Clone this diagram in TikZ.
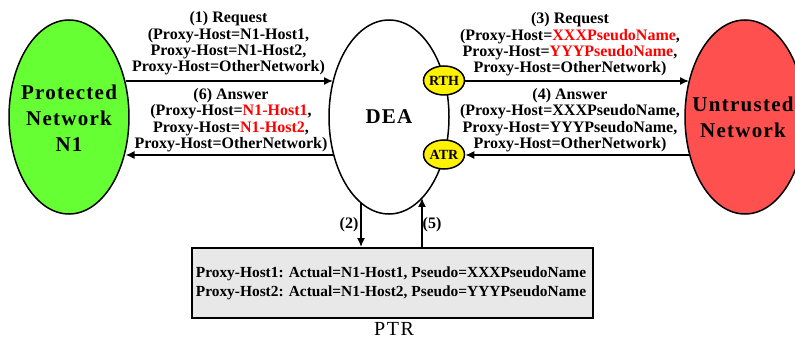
\documentclass[tikz,border=0pt]{standalone}
\usepackage{fontspec}
\setmainfont{Liberation Serif}
\newfontfamily\spaced[LetterSpace=6]{Liberation Serif}
\newfontfamily\widespaced[LetterSpace=8]{Liberation Serif}
\usetikzlibrary{shapes.geometric,arrows.meta}
\definecolor{greenfill}{HTML}{66FF33}
\definecolor{redfill}{HTML}{FF5050}
\definecolor{boxfill}{HTML}{E8E8E8}
\definecolor{hotred}{HTML}{FF0000}
\tikzset{
  net/.style={ellipse,draw=black,line width=1.5pt,minimum width=120pt,minimum height=194pt,inner sep=0pt},
  nettext/.style={align=center,inner sep=0pt,font=\fontsize{21}{26}\selectfont\bfseries\spaced},
  agent/.style={ellipse,draw=black,fill=yellow,line width=1.5pt,minimum width=41pt,minimum height=29pt,inner sep=0pt},
  agenttext/.style={inner sep=0pt,font=\fontsize{14}{14}\selectfont\bfseries},
  msg/.style={align=center,inner sep=0pt,font=\fontsize{16}{16.4}\selectfont\bfseries},
  flow/.style={line width=1.5pt,-{Latex[length=9pt,width=8pt]}},
  tablebox/.style={draw=black,line width=2pt,fill=boxfill,minimum width=401pt,minimum height=70pt,inner sep=0pt},
  tabletext/.style={align=center,inner sep=0pt,font=\fontsize{15.4}{18.5}\selectfont\bfseries},
}
\newcommand{\hot}[1]{\textcolor{hotred}{#1}}
\begin{document}
\begin{tikzpicture}[x=1pt,y=-1pt]
\useasboundingbox (0,0) rectangle (795,339);
\node[net,fill=greenfill] (prot) at (69,117) {};
\node[nettext] (prottext) at (69,118) {Protected\\Network\\N1};
\node[net] (dea) at (389,117) {};
\node[nettext] (deatext) at (389,117) {DEA};
\node[net,fill=redfill] (untr) at (745,117) {};
\node[nettext] (untrtext) at (743,117) {Untrusted\\Network};
\node[agent] (rth) at (444,80.5) {};
\node[agenttext] (rthtext) at (444,80.5) {RTH};
\node[agent] (atr) at (444,154.5) {};
\node[agenttext] (atrtext) at (444,154.5) {ATR};
\node[tablebox] (ptr) at (392,283) {};
\node[tabletext] (ptrtext) at (391,283.5) {Proxy-Host1: Actual=N1-Host1, Pseudo=XXXPseudoName\\Proxy-Host2: Actual=N1-Host2, Pseudo=YYYPseudoName};
\node[font=\fontsize{20}{20}\selectfont\widespaced,inner sep=0pt] (ptrlabel) at (394,328.5) {PTR};
\node[msg] (m1) at (228.5,43.5) {(1) Request\\(Proxy-Host=N1-Host1,\\Proxy-Host=N1-Host2,\\Proxy-Host=OtherNetwork)};
\node[msg] (m6) at (231,120) {(6) Answer\\(Proxy-Host=\hot{N1-Host1},\\Proxy-Host=\hot{N1-Host2},\\Proxy-Host=OtherNetwork)};
\node[msg] (m3) at (570,44.5) {(3) Request\\(Proxy-Host=\hot{XXXPseudoName},\\Proxy-Host=\hot{YYYPseudoName},\\Proxy-Host=OtherNetwork)};
\node[msg] (m4) at (570,120) {(4) Answer\\(Proxy-Host=XXXPseudoName,\\Proxy-Host=YYYPseudoName,\\Proxy-Host=OtherNetwork)};
\node[msg] (n2) at (349,224.5) {(2)};
\node[msg] (n5) at (432,224.5) {(5)};
\coordinate (protupper) at (125.5,81);
\coordinate (protlower) at (125.5,155);
\coordinate (deaupper) at (333,81);
\coordinate (dealower) at (333,155);
\coordinate (untrupper) at (689,81);
\coordinate (untrlower) at (689,155);
\coordinate (deadown) at (361,203);
\coordinate (deaup) at (422,198);
\draw[flow] (protupper) -- (deaupper);
\draw[flow] (dealower) -- (protlower);
\draw[flow] (rth.east |- untrupper) -- (untrupper);
\draw[flow] (untrlower) -- (atr.east |- untrlower);
\draw[flow] (deadown) -- (deadown |- ptr.north);
\draw[flow] (deaup |- ptr.north) -- (deaup);
\end{tikzpicture}
\end{document}
